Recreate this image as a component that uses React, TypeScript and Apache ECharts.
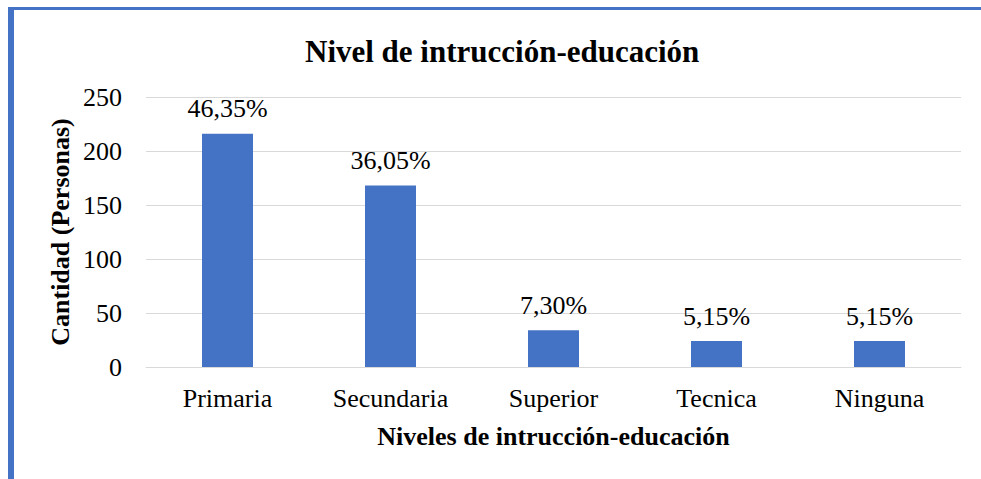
import React, { useEffect, useRef } from "react";
import * as echarts from "echarts";

const categories = ["Primaria", "Secundaria", "Superior", "Tecnica", "Ninguna"];
const values = [216, 168, 34, 24, 24];
const percentLabels = ["46,35%", "36,05%", "7,30%", "5,15%", "5,15%"];
const titleText = "Nivel de intrucción-educación";
const xName = "Niveles de intrucción-educación";
const yName = "Cantidad (Personas)";

const FONT = "'Times New Roman', 'Liberation Serif', serif";

export default function App() {
  const ref = useRef<HTMLDivElement>(null);
  useEffect(() => {
    if (!ref.current) return;
    const chart = echarts.init(ref.current, undefined, { renderer: "svg" });
    chart.setOption({
      animation: false,
      backgroundColor: "#ffffff",
      title: {
        text: titleText,
        left: 300,
        top: 31,
        textStyle: { fontFamily: FONT, fontSize: 31, fontWeight: "bold", color: "#000" },
      },
      graphic: [
        { type: "rect", shape: { x: 8, y: 7, width: 973, height: 3 }, style: { fill: "#4472C4" } },
        { type: "rect", shape: { x: 8, y: 7, width: 6, height: 472 }, style: { fill: "#4472C4" } },
        {
          type: "text",
          x: 60,
          y: 232,
          rotation: Math.PI / 2,
          style: {
            text: yName,
            fontFamily: FONT,
            fontSize: 26,
            fontWeight: "bold",
            fill: "#000",
            align: "center",
            verticalAlign: "middle",
          },
        },
      ],
      grid: { left: 146, right: 20, top: 97, bottom: 112 },
      xAxis: {
        type: "category",
        data: categories,
        name: xName,
        nameLocation: "middle",
        nameGap: 56,
        nameTextStyle: { fontFamily: FONT, fontSize: 26, fontWeight: "bold", color: "#000" },
        axisLine: { show: true, lineStyle: { color: "#d9d9d9", width: 1 } },
        axisTick: { show: false },
        axisLabel: { fontFamily: FONT, fontSize: 26, color: "#000", margin: 18 },
      },
      yAxis: {
        type: "value",
        min: 0,
        max: 250,
        interval: 50,
        axisLine: { show: false },
        axisTick: { show: false },
        splitLine: { lineStyle: { color: "#d9d9d9", width: 1 } },
        axisLabel: { fontFamily: FONT, fontSize: 26, color: "#000", margin: 24 },
      },
      series: [
        {
          type: "bar",
          data: values,
          barWidth: 51,
          itemStyle: { color: "#4472C4" },
          label: {
            show: true,
            position: "top",
            distance: 12,
            fontFamily: FONT,
            fontSize: 26,
            color: "#000",
            formatter: (p: any) => percentLabels[p.dataIndex],
          },
        },
      ],
    });
    return () => chart.dispose();
  }, []);
  return (
    <div
      ref={ref}
      style={{ position: "fixed", left: 0, top: 0, width: 981, height: 479 }}
    />
  );
}
